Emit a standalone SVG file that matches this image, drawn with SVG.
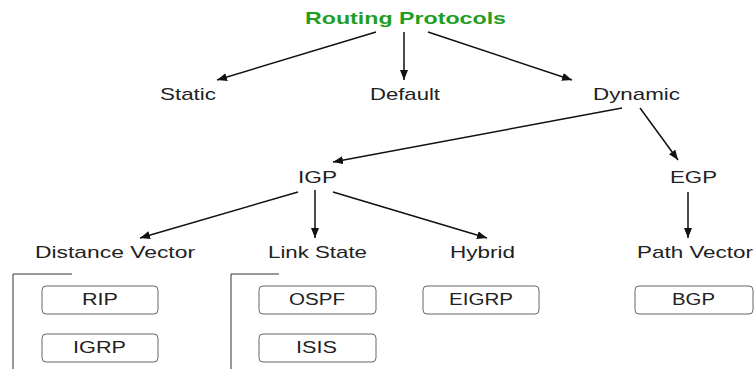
<svg xmlns="http://www.w3.org/2000/svg" width="756" height="369" viewBox="0 0 756 369">
  <defs>
    <marker id="arr" markerUnits="userSpaceOnUse" markerWidth="11" markerHeight="9" refX="10" refY="4" orient="auto">
      <path d="M0,0 L10,4 L0,8 z" fill="#111"/>
    </marker>
    <style>
      .t { font-family: "Liberation Sans", Arial, sans-serif; font-size: 17px; fill: #222; text-anchor: middle; }
      .b { font-family: "Liberation Sans", Arial, sans-serif; font-size: 16px; fill: #222; text-anchor: middle; }
      .title { font-family: "Liberation Sans", Arial, sans-serif; font-size: 17px; font-weight: bold; fill: #1f9e1f; text-anchor: middle; }
      .c { stroke: #111; stroke-width: 1.5; fill: none; marker-end: url(#arr); }
      .box { fill: #fff; stroke: #666; stroke-width: 1; }
      .br { stroke: #333; stroke-width: 1; fill: none; }
    </style>
  </defs>
  <rect width="756" height="369" fill="#fff"/>

  <g id="connectors">
    <line class="c" x1="376" y1="32" x2="217" y2="80"/>
    <line class="c" x1="404" y1="32" x2="404" y2="80"/>
    <line class="c" x1="428" y1="32" x2="572" y2="80"/>
    <line class="c" x1="622" y1="108" x2="333" y2="162"/>
    <line class="c" x1="640" y1="108" x2="678" y2="160"/>
    <line class="c" x1="298" y1="192" x2="140" y2="238"/>
    <line class="c" x1="315" y1="190" x2="315" y2="238"/>
    <line class="c" x1="333" y1="192" x2="487" y2="238"/>
    <line class="c" x1="688" y1="192" x2="688" y2="238"/>
    <path class="br" d="M72,274 H13 V369"/>
    <path class="br" d="M279,274 H231 V369"/>
  </g>

  <g id="routing-protocols"><text class="title" x="405.5" y="24" textLength="201" lengthAdjust="spacingAndGlyphs">Routing Protocols</text></g>
  <g id="static"><text class="t" x="188" y="100" textLength="56" lengthAdjust="spacingAndGlyphs">Static</text></g>
  <g id="default"><text class="t" x="405" y="100" textLength="70" lengthAdjust="spacingAndGlyphs">Default</text></g>
  <g id="dynamic"><text class="t" x="636.5" y="100" textLength="87" lengthAdjust="spacingAndGlyphs">Dynamic</text></g>
  <g id="igp"><text class="t" x="317.5" y="183" textLength="39" lengthAdjust="spacingAndGlyphs">IGP</text></g>
  <g id="egp"><text class="t" x="693.5" y="183" textLength="47" lengthAdjust="spacingAndGlyphs">EGP</text></g>
  <g id="distance-vector"><text class="t" x="115" y="258" textLength="160" lengthAdjust="spacingAndGlyphs">Distance Vector</text></g>
  <g id="link-state"><text class="t" x="317.5" y="258" textLength="99" lengthAdjust="spacingAndGlyphs">Link State</text></g>
  <g id="hybrid"><text class="t" x="482.5" y="258" textLength="65" lengthAdjust="spacingAndGlyphs">Hybrid</text></g>
  <g id="path-vector"><text class="t" x="695" y="258" textLength="116" lengthAdjust="spacingAndGlyphs">Path Vector</text></g>

  <g id="rip"><rect class="box" x="42" y="286" width="116" height="28" rx="4"/><text class="b" x="100" y="305" textLength="36" lengthAdjust="spacingAndGlyphs">RIP</text></g>
  <g id="igrp"><rect class="box" x="42" y="334" width="116" height="28" rx="4"/><text class="b" x="99.5" y="353" textLength="53" lengthAdjust="spacingAndGlyphs">IGRP</text></g>
  <g id="ospf"><rect class="box" x="259" y="286" width="117" height="28" rx="4"/><text class="b" x="317" y="305" textLength="56" lengthAdjust="spacingAndGlyphs">OSPF</text></g>
  <g id="isis"><rect class="box" x="259" y="334" width="117" height="28" rx="4"/><text class="b" x="316.5" y="353" textLength="41" lengthAdjust="spacingAndGlyphs">ISIS</text></g>
  <g id="eigrp"><rect class="box" x="423" y="286" width="116" height="28" rx="4"/><text class="b" x="481" y="305" textLength="64" lengthAdjust="spacingAndGlyphs">EIGRP</text></g>
  <g id="bgp"><rect class="box" x="635" y="286" width="118" height="28" rx="4"/><text class="b" x="693.5" y="305" textLength="43" lengthAdjust="spacingAndGlyphs">BGP</text></g>
</svg>
